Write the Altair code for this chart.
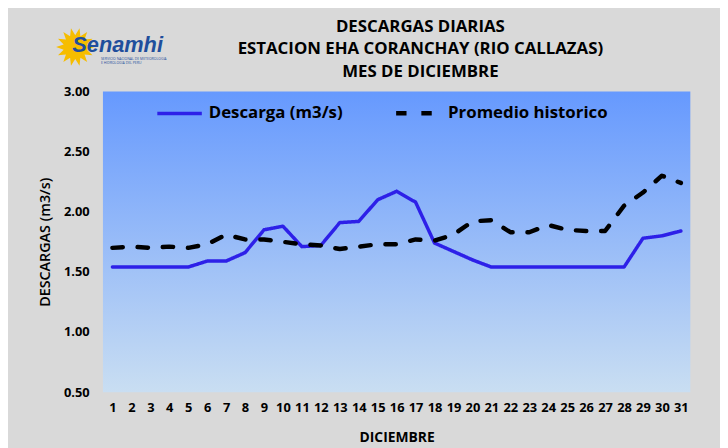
import math
import altair as alt
import pandas as pd

# ---- data ----
days = list(range(1, 32))
descarga = [1.54, 1.54, 1.54, 1.54, 1.54, 1.59, 1.59, 1.66, 1.85, 1.88,
            1.71, 1.72, 1.91, 1.92, 2.10, 2.17, 2.08, 1.74, 1.67, 1.60,
            1.54, 1.54, 1.54, 1.54, 1.54, 1.54, 1.54, 1.54, 1.78, 1.80, 1.84]
promedio = [1.70, 1.71, 1.70, 1.71, 1.70, 1.73, 1.81, 1.77, 1.77, 1.75,
            1.73, 1.72, 1.69, 1.71, 1.73, 1.73, 1.77, 1.76, 1.81, 1.92,
            1.93, 1.83, 1.83, 1.89, 1.85, 1.84, 1.84, 2.05, 2.16, 2.30, 2.24]
series_names = ["Descarga (m3/s)", "Promedio historico"]
y_ticks = [0.5, 1.0, 1.5, 2.0, 2.5, 3.0]
title_lines = ["DESCARGAS DIARIAS", "ESTACION EHA CORANCHAY (RIO CALLAZAS)", "MES DE DICIEMBRE"]
logo_text = ["Senamhi"]
logo_sub = ["SERVICIO NACIONAL DE METEOROLOGIA", "E HIDROLOGIA DEL PERU"]

W, H = 594, 304

df = pd.DataFrame({
    "dia": days * 2,
    "valor": descarga + promedio,
    "serie": [series_names[0]] * len(days) + [series_names[1]] * len(days),
})

FONT = "Open Sans"

legend = alt.Legend(
    title=None, orient="none", legendX=53, legendY=-3, direction="horizontal",
    symbolType="stroke", symbolSize=2025, symbolStrokeWidth=3.5,
    labelFontSize=17, labelFont=FONT, labelFontWeight="bold", labelColor="black",
    labelOffset=5, columnPadding=44, labelLimit=400,
)

gradient = alt.Gradient(
    gradient="linear", x1=0, y1=0, x2=0, y2=1,
    stops=[alt.GradientStop(offset=0, color="#6699fe"),
           alt.GradientStop(offset=1, color="#c9def2")],
)

background = alt.Chart(pd.DataFrame({"k": [0]})).mark_rect(color=gradient).encode(
    x=alt.value(0), x2=alt.value(W), y=alt.value(0), y2=alt.value(H)
)

lines = alt.Chart(df).mark_line(strokeCap="round", strokeJoin="round").encode(
    x=alt.X("dia:Q",
            scale=alt.Scale(domain=[0.5, 31.5], nice=False, zero=False),
            axis=alt.Axis(values=days, format="d", title="DICIEMBRE", labelAngle=0,
                          labelPadding=10, titlePadding=16, labelFlush=False,
                          titleFontSize=14, titleFontWeight="bold")),
    y=alt.Y("valor:Q",
            scale=alt.Scale(domain=[0.5, 3.0], nice=False, zero=False),
            axis=alt.Axis(values=y_ticks, format=".2f", title="DESCARGAS (m3/s)",
                          labelPadding=14, titlePadding=11, titleFontSize=14.5,
                          titleFontWeight=600)),
    color=alt.Color("serie:N", scale=alt.Scale(domain=series_names, range=["#2d20e8", "#000000"]),
                    legend=legend),
    strokeDash=alt.StrokeDash("serie:N", scale=alt.Scale(domain=series_names, range=[[1, 0], [10.5, 15]]),
                              legend=legend),
    strokeWidth=alt.StrokeWidth("serie:N", scale=alt.Scale(domain=series_names, range=[3.5, 4.5]),
                                legend=None),
)

title = alt.Chart(pd.DataFrame({"t": [title_lines]})).mark_text(
    font=FONT, fontSize=17, fontWeight="bold", color="black",
    align="center", baseline="top", lineHeight=22.5
).encode(x=alt.value(321), y=alt.value(-73), text="t")

# ---- logo (decoration) ----
pts = []
n = 14
for i in range(2 * n):
    r = 1.0 if i % 2 == 0 else 0.62
    a = math.pi * i / n
    pts.append(f"{r * math.cos(a):.3f},{r * math.sin(a):.3f}")
sun_path = "M" + " L".join(pts) + " Z"

sun = alt.Chart(pd.DataFrame({"k": [0]})).mark_point(
    shape=sun_path, filled=True, color="#f6bd00", opacity=1, size=1500
).encode(x=alt.value(-28), y=alt.value(-45))

logo = alt.Chart(pd.DataFrame({"t": logo_text})).mark_text(
    font="Liberation Sans", fontSize=22, fontWeight="bold", fontStyle="italic", color="#1f4e9c",
    align="left", baseline="alphabetic"
).encode(x=alt.value(-31), y=alt.value(-40), text="t:N")

logo_small = alt.Chart(pd.DataFrame({"t": [logo_sub]})).mark_text(
    font=FONT, fontSize=3.5, color="#1f4e9c", align="left", baseline="top", lineHeight=4
).encode(x=alt.value(-2), y=alt.value(-35), text="t")

chart = alt.layer(background, lines, title, sun, logo, logo_small).properties(
    width=W, height=H,
    padding={"left": 96, "top": 82, "right": 30, "bottom": 54},
    autosize=alt.AutoSizeParams(type="none"),
).configure(
    background="#d9d9d9",
).configure_view(
    stroke=None,
).configure_axis(
    labelFont=FONT, labelFontWeight="bold", labelFontSize=13, labelColor="black",
    titleFont=FONT, titleColor="black",
    domain=False, ticks=False, grid=False,
)

chart.save("out.html", embed_options={"renderer": "svg", "actions": False})
